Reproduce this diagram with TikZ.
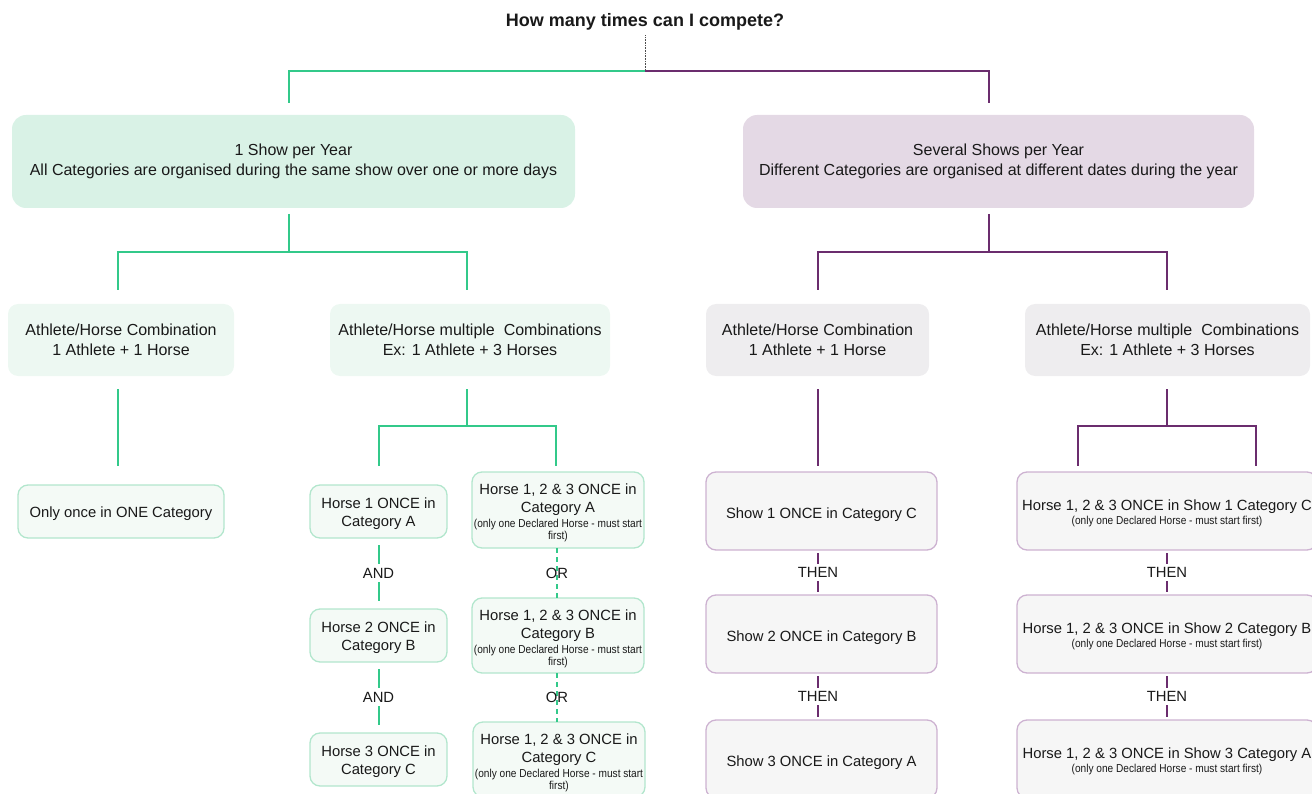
\documentclass[tikz,border=0pt]{standalone}
\usepackage{fontspec}
\setmainfont{Liberation Sans}
\newfontfamily\narrowsf[FakeStretch=0.88]{Liberation Sans}
\definecolor{gline}{HTML}{33C98A}
\definecolor{pline}{HTML}{6B2D6E}
\definecolor{gfillA}{HTML}{D9F2E6}
\definecolor{pfillA}{HTML}{E4D9E5}
\definecolor{gfillB}{HTML}{EDF8F2}
\definecolor{pfillB}{HTML}{EEEDEF}
\definecolor{gfillC}{HTML}{F4FAF6}
\definecolor{gborder}{HTML}{B2E6CD}
\definecolor{pfillC}{HTML}{F6F6F6}
\definecolor{pborder}{HTML}{CDB2D1}
\newcommand{\fs}[2]{\fontsize{#1}{#2}\selectfont}
\newcommand{\smalltxt}[1]{{\narrowsf\fs{11.5}{13}#1}}
\newcommand{\lift}[1]{\rule{0pt}{#1}}
\tikzset{
  x=1pt, y=-1pt,
  every node/.style={inner sep=0pt, outer sep=0pt, text=black!90},
  levelA/.style={rounded corners=14pt, align=center, font=\fs{16}{20}},
  levelB/.style={rounded corners=10pt, align=center, font=\fs{16}{20}},
  levelC/.style={rounded corners=10pt, align=center, font=\fs{14.8}{18}, line width=1.3pt},
  gA/.style={levelA, fill=gfillA},
  pA/.style={levelA, fill=pfillA},
  gB/.style={levelB, fill=gfillB},
  pB/.style={levelB, fill=pfillB},
  gC/.style={levelC, fill=gfillC, draw=gborder},
  pC/.style={levelC, fill=pfillC, draw=pborder},
  gconn/.style={draw=gline, line width=2pt},
  pconn/.style={draw=pline, line width=2pt},
  gdash/.style={draw=gline, line width=1.6pt, dash pattern=on 5pt off 4pt},
  pdash/.style={draw=pline, line width=1.6pt},
  lblw/.style={fill=white, inner sep=4pt, font=\fs{14.8}{18}},
  lbl/.style={inner sep=2pt, font=\fs{14.8}{18}},
}
\begin{document}
\begin{tikzpicture}
\useasboundingbox (0,0) rectangle (1312,794);
\clip (0,0) rectangle (1312,794);

\node[font=\bfseries\fs{18}{22}] (title) at (645,22) {How many times can I compete?};

% Level A
\node[gA, minimum width=563pt, minimum height=93pt] (L1) at (293.5,161.5)
  {1 Show per Year\\All Categories are organised during the same show over one or more days};
\node[pA, minimum width=511pt, minimum height=93pt] (R1) at (998.5,161.5)
  {Several Shows per Year\\Different Categories are organised at different dates during the year};

% Level B
\node[gB, minimum width=226pt, minimum height=72pt] (L2a) at (121,340)
  {Athlete/Horse Combination\\1 Athlete + 1 Horse};
\node[gB, minimum width=280pt, minimum height=72pt] (L2b) at (470,340)
  {Athlete/Horse multiple\ \ Combinations\\Ex: 1 Athlete + 3 Horses};
\node[pB, minimum width=223pt, minimum height=72pt] (R2a) at (817.5,340)
  {Athlete/Horse Combination\\1 Athlete + 1 Horse};
\node[pB, minimum width=285pt, minimum height=72pt] (R2b) at (1167.5,340)
  {Athlete/Horse multiple\ \ Combinations\\Ex: 1 Athlete + 3 Horses};

% Level C left
\node[gC, minimum width=206pt, minimum height=53pt] (L3) at (121,511.5) {\lift{15pt}Only once in ONE Category};
\node[gC, minimum width=137pt, minimum height=53pt] (H1) at (378.5,511.5) {\lift{15pt}Horse 1 ONCE in\\Category A};
\node[gC, minimum width=137pt, minimum height=53pt] (H2) at (378.5,635.5) {\lift{15pt}Horse 2 ONCE in\\Category B};
\node[gC, minimum width=137pt, minimum height=53pt] (H3) at (378.5,759.5) {\lift{15pt}Horse 3 ONCE in\\Category C};
\node[gC, minimum width=172pt, minimum height=76pt] (HA) at (558,510)
  {\lift{17pt}Horse 1, 2 \& 3 ONCE in\\Category A\\[-3pt]\smalltxt{(only one Declared Horse - must start}\\[-6pt]\smalltxt{first)}};
\node[gC, minimum width=172pt, minimum height=75pt] (HB) at (558,635.5)
  {\lift{17pt}Horse 1, 2 \& 3 ONCE in\\Category B\\[-3pt]\smalltxt{(only one Declared Horse - must start}\\[-6pt]\smalltxt{first)}};
\node[gC, minimum width=172pt, minimum height=75pt] (HC) at (559,759.5)
  {\lift{17pt}Horse 1, 2 \& 3 ONCE in\\Category C\\[-3pt]\smalltxt{(only one Declared Horse - must start}\\[-6pt]\smalltxt{first)}};

% Level C right
\node[pC, minimum width=231pt, minimum height=78pt] (S1) at (821.5,511) {\lift{19pt}Show 1 ONCE in Category C};
\node[pC, minimum width=231pt, minimum height=78pt] (S2) at (821.5,634) {\lift{19pt}Show 2 ONCE in Category B};
\node[pC, minimum width=231pt, minimum height=78pt] (S3) at (821.5,759) {\lift{19pt}Show 3 ONCE in Category A};
\node[pC, minimum width=300pt, minimum height=78pt] (M1) at (1167,511)
  {\lift{16pt}Horse 1, 2 \& 3 ONCE in Show 1 Category C\\[-4pt]\smalltxt{(only one Declared Horse - must start first)}};
\node[pC, minimum width=300pt, minimum height=78pt] (M2) at (1167,634)
  {\lift{16pt}Horse 1, 2 \& 3 ONCE in Show 2 Category B\\[-4pt]\smalltxt{(only one Declared Horse - must start first)}};
\node[pC, minimum width=300pt, minimum height=78pt] (M3) at (1167,759)
  {\lift{16pt}Horse 1, 2 \& 3 ONCE in Show 3 Category A\\[-4pt]\smalltxt{(only one Declared Horse - must start first)}};

% Top connectors
\coordinate (tj) at (645,71);
\draw[densely dotted, black!70, line width=0.6pt] (title.south) ++(0,-5pt) -- (tj);
\draw[gconn] (tj) -| ([xshift=-4.5pt, yshift=12pt]L1.north);
\draw[pconn] (tj) -| ([xshift=-9.5pt, yshift=12pt]R1.north);

% Level A -> B
\coordinate (gj1) at (289,252);
\coordinate (pj1) at (989,252);
\draw[gconn] ([xshift=-4.5pt, yshift=-6pt]L1.south) -- (gj1);
\draw[gconn] (gj1) -| ([xshift=-3pt, yshift=14pt]L2a.north);
\draw[gconn] (gj1) -| ([xshift=-3pt, yshift=14pt]L2b.north);
\draw[pconn] ([xshift=-9.5pt, yshift=-6pt]R1.south) -- (pj1);
\draw[pconn] (pj1) -| ([xshift=0.5pt, yshift=14pt]R2a.north);
\draw[pconn] (pj1) -| ([xshift=-0.5pt, yshift=14pt]R2b.north);

% Level B -> C
\draw[gconn] ([xshift=-3pt, yshift=-13pt]L2a.south) -- ([xshift=-3pt, yshift=19pt]L3.north);
\coordinate (gj2) at (467,426);
\draw[gconn] ([xshift=-3pt, yshift=-13pt]L2b.south) -- (gj2);
\draw[gconn] (gj2) -| ([yshift=19pt]H1.north);
\draw[gconn] (gj2) -| ([xshift=-2pt, yshift=6pt]HA.north);
\draw[pconn] ([xshift=0.5pt, yshift=-13pt]R2a.south) -- ([xshift=-3.5pt, yshift=6pt]S1.north);
\coordinate (pj2) at (1167,426);
\draw[pconn] ([xshift=-0.5pt, yshift=-13pt]R2b.south) -- (pj2);
\draw[pconn] (pj2) -| ([xshift=-89pt, yshift=6pt]M1.north);
\draw[pconn] (pj2) -| ([xshift=89pt, yshift=6pt]M1.north);

% Sequences left
\draw[gconn] ([yshift=-7pt]H1.south) -- node[lblw] {AND} ([yshift=8pt]H2.north);
\draw[gconn] ([yshift=-7pt]H2.south) -- node[lblw] {AND} ([yshift=8pt]H3.north);
\draw[gdash] ([xshift=-1pt]HA.south) -- node[lbl] {OR} ([xshift=-1pt]HB.north);
\draw[gdash] ([xshift=-1pt]HB.south) -- node[lbl] {OR} ([xshift=-2pt]HC.north);

% Sequences right
\draw[pdash] ([xshift=-3.5pt, yshift=-3pt]S1.south) -- node[lblw, inner sep=3pt] {THEN} ([xshift=-3.5pt, yshift=3pt]S2.north);
\draw[pdash] ([xshift=-3.5pt, yshift=-3pt]S2.south) -- node[lblw, inner sep=3pt] {THEN} ([xshift=-3.5pt, yshift=3pt]S3.north);
\draw[pdash] ([yshift=-3pt]M1.south) -- node[lblw, inner sep=3pt] {THEN} ([yshift=3pt]M2.north);
\draw[pdash] ([yshift=-3pt]M2.south) -- node[lblw, inner sep=3pt] {THEN} ([yshift=3pt]M3.north);
\end{tikzpicture}
\end{document}
